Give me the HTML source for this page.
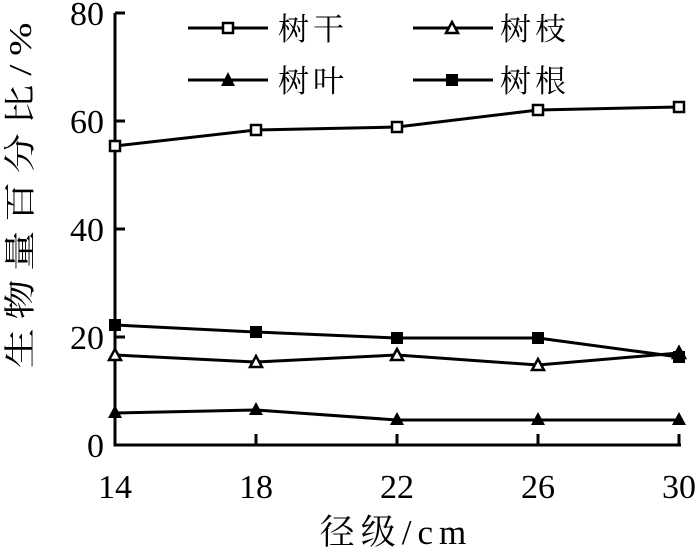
<!DOCTYPE html>
<html><head><meta charset="utf-8"><style>body{margin:0;background:#fff}svg{display:block}</style></head><body>
<svg width="700" height="551" viewBox="0 0 700 551" xmlns="http://www.w3.org/2000/svg">
<g stroke="#000" stroke-width="3" fill="none">
<polyline points="115,13 115,445 681,445"/>
<line x1="115" y1="337" x2="125" y2="337"/><line x1="115" y1="229" x2="125" y2="229"/><line x1="115" y1="121" x2="125" y2="121"/><line x1="115" y1="13" x2="125" y2="13"/>
<line x1="256" y1="445" x2="256" y2="434"/><line x1="397" y1="445" x2="397" y2="434"/><line x1="538" y1="445" x2="538" y2="434"/><line x1="679" y1="445" x2="679" y2="434"/>
<polyline points="115,146 256,130 397,127 538,110 679,107"/>
<polyline points="115,325 256,332 397,338 538,338 679,357"/>
<polyline points="115,355 256,362 397,355 538,365 679,353"/>
<polyline points="115,413 256,410 397,420 538,420 679,420"/>
<line x1="188" y1="28" x2="268" y2="28"/><line x1="413" y1="28" x2="493" y2="28"/>
<line x1="188" y1="80" x2="268" y2="80"/><line x1="413" y1="80" x2="493" y2="80"/>
</g>
<g fill="#fff" stroke="#000" stroke-width="2.5">
<rect x="110" y="141" width="10" height="10"/><rect x="251" y="125" width="10" height="10"/><rect x="392" y="122" width="10" height="10"/><rect x="533" y="105" width="10" height="10"/><rect x="674" y="102" width="10" height="10"/>
<rect x="223" y="23" width="10" height="10"/>
<polygon points="115,349 121,360 109,360"/><polygon points="256,356 262,367 250,367"/><polygon points="397,349 403,360 391,360"/><polygon points="538,359 544,370 532,370"/><polygon points="679,347 685,358 673,358"/>
<polygon points="452,22 458,33 446,33"/>
</g>
<g fill="#000">
<rect x="109" y="319" width="12" height="12"/><rect x="250" y="326" width="12" height="12"/><rect x="391" y="332" width="12" height="12"/><rect x="532" y="332" width="12" height="12"/><rect x="673" y="351" width="12" height="12"/>
<rect x="446" y="74" width="12" height="12"/>
<polygon points="115,405 122,418 108,418"/><polygon points="256,402 263,415 249,415"/><polygon points="397,412 404,425 390,425"/><polygon points="538,412 545,425 531,425"/><polygon points="679,412 686,425 672,425"/>
<polygon points="228,72 235,86 221,86"/>
<polygon points="679,345 686,358 672,358"/>
</g>
<g font-family="Liberation Serif, serif" font-size="34" fill="#000">
<g text-anchor="end"><text x="104" y="457">0</text><text x="104" y="349">20</text><text x="104" y="241">40</text><text x="104" y="133">60</text><text x="104" y="25">80</text></g>
<g text-anchor="middle"><text x="115" y="498">14</text><text x="256" y="498">18</text><text x="397" y="498">22</text><text x="538" y="498">26</text><text x="679" y="498">30</text></g>
</g>
<g font-family="Liberation Serif, Noto Serif CJK SC, serif" font-size="31" fill="#000">
<text x="278" y="40" letter-spacing="4">树干</text><text x="500" y="40" letter-spacing="4">树枝</text>
<text x="278" y="92" letter-spacing="4">树叶</text><text x="500" y="92" letter-spacing="4">树根</text>
</g>
<g font-family="Liberation Serif, Noto Serif CJK SC, serif" font-size="35" fill="#000">
<text x="396" y="544" text-anchor="middle" letter-spacing="6">径级/cm</text>
</g>
<g font-family="Liberation Serif, Noto Serif CJK SC, serif" font-size="32" fill="#000">
<text transform="translate(31,191) rotate(-90) scale(1.25,1)" text-anchor="middle" letter-spacing="7">生物量百分比/%</text>
</g>
</svg>
</body></html>
